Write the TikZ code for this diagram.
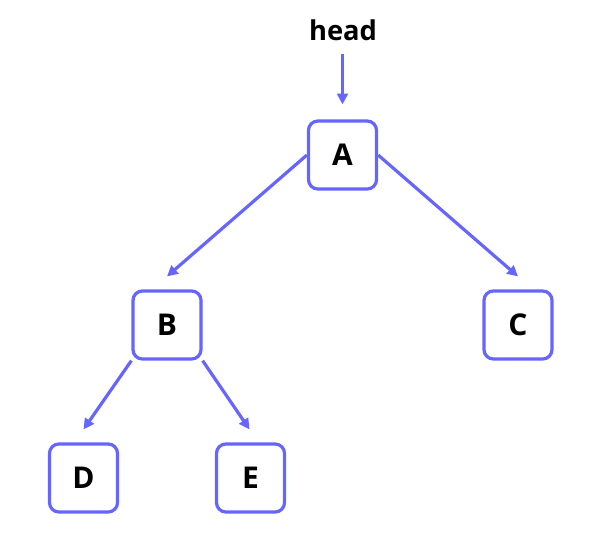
\documentclass[tikz,border=0pt]{standalone}
\usepackage{fontspec}
\setmainfont{Open Sans}
\usetikzlibrary{arrows.meta,positioning,calc}
\definecolor{treeBlue}{RGB}{102, 102, 255}

\begin{document}
\begin{tikzpicture}[
        x=0.75pt, y=-0.75pt,
        treenode/.style={rectangle, draw=treeBlue, fill=white, rounded corners=7pt, line width=2.4pt, minimum width=51pt, minimum height=51pt, inner sep=0pt, font=\fontsize{22.5}{26}\selectfont\bfseries},
        label/.style={font=\fontsize{20.5}{24}\selectfont\bfseries},
        arrow/.style={-{Triangle[length=8pt, width=8pt]}, draw=treeBlue, line width=2.4pt}
    ]
        \useasboundingbox (0,0) rectangle (610,540);

        % Head pointer
        \node[label] (head) at (343,30) {head};

        % Tree nodes
        \node[treenode] (A) at (342.5,155) {A};
        \node[treenode] (B) at (167,325) {B};
        \node[treenode] (C) at (518,325) {C};
        \node[treenode] (D) at (83.5,478) {D};
        \node[treenode] (E) at (250.5,478) {E};

        % Arrow ends
        \coordinate (headEnd) at ($(A.north)+(0,-15)$);
        \coordinate (headStart) at ($(A.north)+(0,-65)$);
        \coordinate (BEnd) at ($(B.north)+(0,-13)$);
        \coordinate (CEnd) at ($(C.north)+(0,-13)$);
        \coordinate (DEnd) at ($(D.north)+(0,-13)$);
        \coordinate (EEnd) at ($(E.north)+(-1,-13)$);

        % Arrows
        \draw[arrow] (headStart) -- (headEnd);
        \draw[arrow] (A.west) -- (BEnd);
        \draw[arrow] (A.east) -- (CEnd);
        \draw[arrow] (B.south west) -- (DEnd);
        \draw[arrow] (B.south east) -- (EEnd);

    \end{tikzpicture}
\end{document}
